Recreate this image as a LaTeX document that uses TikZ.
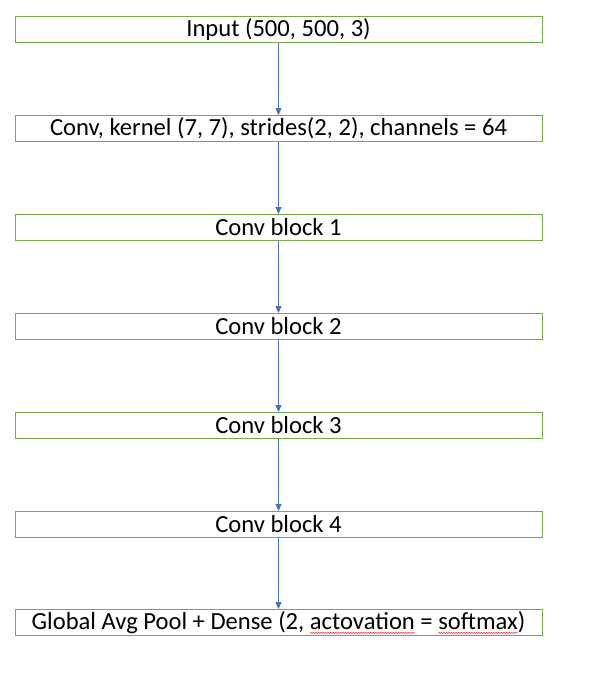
\documentclass[tikz,border=0pt]{standalone}
\usepackage{fontspec}
\setmainfont{Carlito}
\usetikzlibrary{arrows.meta,decorations.pathmorphing}
\definecolor{boxgreen}{HTML}{70AD47}
\definecolor{arrowblue}{HTML}{4472C4}
\tikzset{spell/.style={draw=red!80!white,line width=0.5pt,decorate,decoration={snake,amplitude=0.7pt,segment length=2.5pt}}}
\newcommand\wavyword[1]{\setbox0\hbox{#1}\leavevmode\rlap{\tikz[overlay,baseline=0pt]\draw[spell] (0pt,-3.5pt) -- (\wd0,-3.5pt);}\box0\relax}
\begin{document}
\begin{tikzpicture}[x=1pt,y=-1pt,
  layer/.style={draw=boxgreen,line width=0.9pt,minimum width=527pt,minimum height=26pt,inner sep=0pt,font=\fontsize{24.6}{26}\selectfont,anchor=center},
  flow/.style={draw=arrowblue,line width=0.8pt,-{Triangle[length=7pt,width=6pt]}}]
\useasboundingbox (0,0) rectangle (590,677);
\node[layer] (in) at (278.5,29.5) {Input (500, 500, 3)};
\node[layer] (conv) at (278.5,128.5) {Conv, kernel (7, 7), strides(2, 2), channels = 64};
\node[layer] (b1) at (278.5,227.5) {Conv block 1};
\node[layer] (b2) at (278.5,326.5) {Conv block 2};
\node[layer] (b3) at (278.5,425.5) {Conv block 3};
\node[layer] (b4) at (278.5,524.5) {Conv block 4};
\node[layer] (out) at (278.5,622.5) {Global Avg Pool + Dense (2, \wavyword{actovation} = \wavyword{softmax})};
\draw[flow] (in) -- (conv);
\draw[flow] (conv) -- (b1);
\draw[flow] (b1) -- (b2);
\draw[flow] (b2) -- (b3);
\draw[flow] (b3) -- (b4);
\draw[flow] (b4) -- (out);
\end{tikzpicture}
\end{document}
